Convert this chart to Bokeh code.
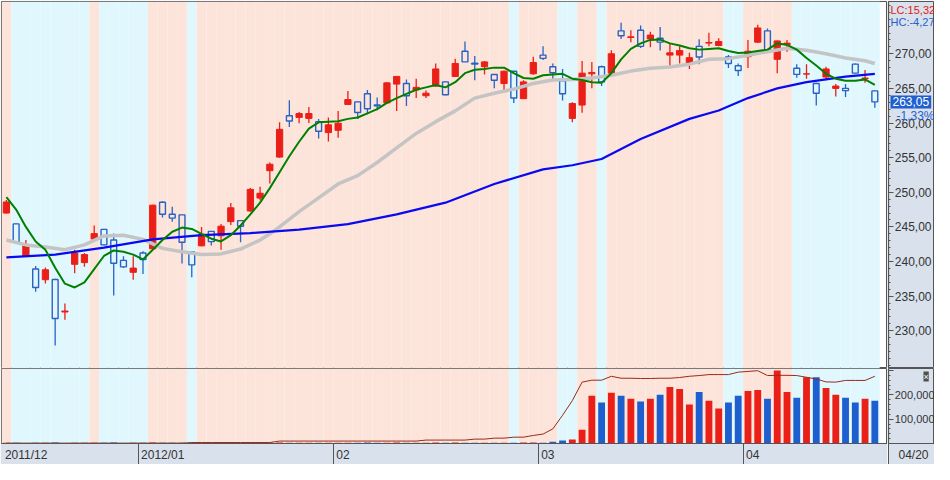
from bokeh.plotting import figure
from bokeh.layouts import column, row
from bokeh.models import Range1d, FixedTicker, Label, ColumnDataSource
from bokeh.embed import file_html
from bokeh.resources import INLINE

# ---------------- data (KOSPI200 futures, daily) ----------------
opens = [
    247.0, 245.43, 240.77, 238.91, 237.37, 237.41, 232.71, 239.6, 239.84, 243.24,
    244.64, 243.1, 240.16, 238.44, 241.24, 241.84, 248.56, 246.83, 246.74, 241.38,
    242.26, 244.36, 243.71, 245.76, 245.9, 247.3, 249.16, 253.12, 255.08, 261.05,
    260.81, 260.67, 260.2, 258.62, 258.95, 262.68, 263.05, 264.22, 262.62, 262.91,
    265.62, 265.71, 264.78, 263.94, 265.34, 265.94, 266.73, 270.37, 268.65, 268.13,
    267.0, 265.71, 267.48, 263.52, 267.11, 269.81, 268.13, 266.08, 260.67, 262.59,
    267.11, 268.13, 267.2, 273.31, 272.35, 273.4, 272.14, 272.24, 269.81, 269.81,
    268.51, 271.07, 271.54, 271.2, 269.53, 268.27, 269.58, 271.68, 273.31, 269.2,
    271.3, 267.9, 267.07, 265.71, 266.64, 265.0, 265.01, 268.5, 266.4, 264.64]
highs = [
    248.9, 245.5, 243.1, 239.37, 239.14, 237.5, 233.92, 241.7, 241.24, 245.2,
    244.7, 244.03, 240.77, 240.77, 241.5, 248.2, 248.7, 247.9, 246.8, 241.4,
    244.97, 244.4, 245.43, 248.46, 245.95, 250.6, 250.8, 254.29, 260.1, 263.3,
    261.6, 262.3, 260.58, 260.8, 261.75, 264.63, 263.1, 264.78, 263.7, 265.9,
    266.8, 266.27, 266.41, 264.68, 268.6, 266.0, 269.3, 271.77, 269.67, 268.97,
    267.0, 267.57, 267.5, 266.17, 269.58, 271.07, 268.6, 267.81, 263.0, 268.97,
    268.83, 268.3, 270.51, 274.47, 273.4, 274.1, 273.17, 273.87, 271.54, 271.07,
    270.14, 272.1, 273.03, 272.24, 269.81, 268.6, 272.0, 274.19, 273.64, 271.9,
    272.0, 268.5, 268.5, 265.8, 268.13, 265.62, 265.62, 268.6, 267.67, 264.7]
lows = [
    246.9, 242.7, 240.7, 235.64, 236.81, 227.86, 231.59, 238.3, 239.23, 242.96,
    242.3, 235.08, 239.05, 237.37, 238.2, 241.8, 246.37, 245.76, 239.7, 237.74,
    242.2, 242.31, 241.7, 245.29, 242.78, 247.2, 248.84, 251.26, 255.0, 259.42,
    259.97, 260.0, 257.78, 257.32, 257.88, 262.59, 260.58, 261.28, 261.84, 262.8,
    261.75, 262.45, 263.61, 263.61, 265.24, 264.0, 266.64, 268.8, 266.17, 267.0,
    265.01, 264.54, 262.91, 263.47, 266.97, 269.11, 266.08, 263.24, 260.12, 261.5,
    265.01, 265.34, 267.01, 272.14, 271.68, 270.84, 270.93, 270.46, 268.27, 268.6,
    267.81, 268.5, 271.07, 271.07, 267.95, 266.78, 267.95, 271.54, 270.28, 267.2,
    270.28, 266.55, 266.4, 262.54, 266.17, 263.84, 263.75, 267.1, 265.8, 262.2]
closes = [
    248.6, 242.78, 242.26, 236.25, 238.81, 231.77, 232.85, 241.24, 241.0, 244.03,
    242.4, 239.74, 239.23, 239.05, 240.3, 248.14, 246.83, 246.27, 242.78, 239.51,
    243.94, 242.87, 245.1, 247.76, 245.1, 250.42, 249.86, 254.05, 259.09, 260.3,
    261.37, 261.37, 258.81, 259.74, 259.97, 263.38, 261.51, 262.07, 262.5, 265.8,
    266.73, 263.94, 265.15, 264.31, 267.81, 264.08, 268.6, 268.83, 268.5, 268.83,
    266.17, 267.48, 263.61, 265.94, 268.74, 269.34, 267.25, 264.22, 262.82, 267.2,
    267.3, 265.94, 270.0, 272.61, 272.45, 271.07, 272.7, 271.68, 270.14, 270.46,
    269.44, 269.53, 271.63, 271.77, 268.6, 267.58, 270.37, 273.73, 270.6, 271.86,
    271.54, 267.02, 267.1, 264.31, 267.81, 265.34, 264.68, 267.2, 266.5, 263.05]
volumes = [
    2600, 3100, 2400, 3500, 2800, 3900, 2500, 3200, 2700, 3000,
    2900, 3600, 2400, 2800, 3300, 4100, 2600, 3000, 3400, 2900,
    3100, 2700, 3300, 3600, 2500, 3800, 2900, 3400, 4200, 3000,
    2800, 3100, 3500, 2600, 3200, 2900, 3300, 3700, 2800, 3100,
    3900, 3400, 3000, 2700, 3600, 3200, 3800, 3400, 2900, 3100,
    2700, 3300, 3500, 3800, 4000, 3000, 6700, 12000, 16000, 56000,
    196000, 168000, 208000, 196000, 184000, 172000, 184000, 200000, 232000, 224000,
    160000, 212000, 176000, 144000, 168000, 196000, 216000, 220000, 184000, 300000,
    212000, 188000, 272000, 272000, 228000, 200000, 188000, 168000, 184000, 176000]
open_interest = [
    1500, 1500, 1500, 1500, 1500, 1500, 1500, 1500, 1500, 1500,
    1500, 1500, 1500, 1500, 1500, 1500, 1500, 1500, 1500, 4000,
    4000, 4000, 4000, 4000, 4000, 4000, 4000, 4000, 10000, 10000,
    10000, 10000, 10000, 10000, 10000, 10000, 10000, 10000, 10000, 10000,
    10000, 10000, 10000, 14000, 14000, 14000, 14000, 14000, 18000, 18000,
    22000, 22000, 26000, 26000, 33000, 38700, 60000, 116000, 176000, 252000,
    260000, 260000, 276000, 268000, 268000, 267000, 267000, 268000, 268000, 271000,
    276000, 279000, 283000, 283000, 283000, 293000, 296000, 299000, 279000, 280000,
    280000, 279000, 272000, 265000, 253000, 252000, 259000, 259000, 259000, 276000]
# 1 = pink (rising phase), 0 = light cyan (falling phase)
trend_state = [
    1, 0, 0, 0, 0, 0, 0, 0, 0, 1,
    0, 0, 0, 0, 0, 1, 1, 1, 1, 0,
    1, 1, 1, 1, 1, 1, 1, 1, 1, 1,
    1, 1, 1, 1, 1, 1, 1, 1, 1, 1,
    1, 1, 1, 1, 1, 1, 1, 1, 1, 1,
    1, 1, 0, 1, 1, 1, 1, 0, 0, 1,
    1, 0, 1, 1, 1, 1, 1, 1, 1, 1,
    1, 1, 1, 1, 0, 0, 1, 1, 1, 1,
    1, 0, 0, 0, 0, 0, 0, 0, 0, 0]
ma_short = [
    249.3, 247.5, 245.0, 242.9, 241.7, 239.1, 236.8, 236.25, 237.0, 238.9,
    240.8, 241.6, 241.4, 241.0, 240.3, 241.7, 243.1, 244.3, 244.9, 244.7,
    244.0, 243.3, 242.9, 243.8, 245.2, 246.8, 248.5, 250.6, 252.9, 255.2,
    257.3, 259.2, 260.1, 260.2, 260.25, 260.6, 260.8, 261.4, 262.0, 262.9,
    263.6, 264.2, 264.8, 265.15, 265.5, 265.15, 265.9, 267.2, 267.7, 267.8,
    268.0, 268.0, 267.2, 266.5, 266.4, 266.9, 267.0, 267.1, 266.4, 266.2,
    265.9, 265.8, 267.2, 269.2, 270.7, 271.5, 272.0, 272.05, 271.5, 271.2,
    270.8, 270.6, 270.7, 270.8, 270.4, 270.1, 270.2, 270.4, 270.6, 271.5,
    271.3, 270.6, 269.4, 268.3, 267.1, 266.4, 266.1, 266.1, 266.3, 265.5]
ma_mid_idx = [0, 2, 4, 6, 8, 10, 12, 14, 16, 18, 20, 22, 24, 26, 27, 28, 30, 32, 34, 36,
              38, 40, 42, 44, 46, 48, 50, 52, 54, 56, 58, 60, 62, 64, 66, 68, 70, 72, 74, 76,
              78, 80, 82, 84, 86, 88, 89]
ma_mid = [243.1, 242.4, 242.1, 241.7, 242.4, 243.7, 243.8, 243.2, 241.9, 241.4,
          241.0, 241.1, 241.8, 243.1, 244.0, 245.0, 247.2, 249.2, 251.2, 252.4,
          254.3, 256.4, 258.5, 260.2, 261.75, 263.6, 264.3, 264.9, 265.7, 266.2,
          266.3, 266.5, 266.9, 267.5, 267.9, 268.1, 268.5, 269.2, 269.3, 269.8,
          270.3, 270.8, 270.5, 270.0, 269.4, 269.0, 268.6]
ma_long_idx = [0, 5, 10, 15, 20, 25, 30, 35, 40, 45, 50, 55, 58, 61, 65, 70, 73, 76, 79, 82, 86, 89]
ma_long = [240.6, 241.0, 242.0, 243.2, 243.8, 244.1, 244.6, 245.4, 246.8, 248.5, 251.2,
           253.3, 253.9, 254.8, 257.7, 260.6, 261.8, 263.6, 265.0, 265.9, 266.7, 267.1]

month_labels = ["2011/12", "2012/01", "02", "03", "04"]
month_start_idx = [0, 14, 34, 55, 76]
price_ticks = [230, 235, 240, 245, 250, 255, 260, 265, 270]
price_tick_labels = ["230,00", "235,00", "240,00", "245,00", "250,00",
                     "255,00", "260,00", "265,00", "270,00"]
vol_ticks = [0, 100000, 200000, 300000]
vol_tick_labels = ["", "100,000", "200,000", ""]
last_date_label = "04/20"
lc_text = "LC:15,32"
hc_text = "HC:-4,27"
last_close_text = "263,05"
change_text = "-1,33%"

# ---------------- style ----------------
RED = "#ea1f17"
BLUE = "#2a62c4"
PINK = "#fde4da"
CYAN = "#e0f8fd"
AXIS_BG = "#d9e1ec"
EDGE = "#555555"
TXT = "#333333"
FONT = "Liberation Sans"

W_MAIN, W_AX = 887, 47
H_PRICE, H_VOL, AX_H = 368, 96, 21

x_start, x_end = -0.5, 90.3
p_lo, p_hi = 224.55, 277.55
v_lo, v_hi = 0, 308000

N = len(closes)
idx = list(range(N))
xr = Range1d(x_start, x_end)
pyr = Range1d(p_lo, p_hi)
vyr = Range1d(v_lo, v_hi)


def make_main(height, yr, top, bottom, xloc):
    f = figure(width=W_MAIN, height=height, x_range=xr, y_range=yr,
               output_backend="svg", toolbar_location=None,
               y_axis_location=None, x_axis_location=xloc,
               min_border_left=1, min_border_right=0,
               min_border_top=top, min_border_bottom=bottom,
               background_fill_color="white", border_fill_color=AXIS_BG,
               outline_line_color=EDGE, outline_line_width=1)
    f.grid.visible = False
    return f


def make_side(height, yr, top, bottom, xloc):
    f = figure(width=W_AX, height=height, x_range=Range1d(0, 1), y_range=yr,
               output_backend="svg", toolbar_location=None,
               y_axis_location="left", x_axis_location=xloc,
               min_border_left=1, min_border_right=0,
               min_border_top=top, min_border_bottom=bottom,
               background_fill_color=AXIS_BG, border_fill_color=AXIS_BG,
               outline_line_color=EDGE, outline_line_width=1)
    f.grid.visible = False
    return f


def style_axis(ax, size):
    ax.axis_line_color = EDGE
    ax.axis_line_width = 1.2
    ax.major_tick_line_color = EDGE
    ax.minor_tick_line_color = EDGE
    ax.major_label_text_font = FONT
    ax.major_label_text_font_size = size
    ax.major_label_text_color = TXT


band_src = ColumnDataSource(dict(
    left=[i - 0.5 for i in idx], right=[i + 0.5 for i in idx],
    color=[PINK if s else CYAN for s in trend_state]))

# ---------------- price panel ----------------
p = make_main(H_PRICE, pyr, 1, 0, None)
p.quad(left="left", right="right", bottom=p_lo, top=p_hi, fill_color="color",
       line_color=None, source=band_src)

up = [c >= o for o, c in zip(opens, closes)]
btop = [max(o, c) for o, c in zip(opens, closes)]
bbot = [min(o, c) for o, c in zip(opens, closes)]


def pick(vals, want):
    return [v for v, u in zip(vals, up) if u == want]


red = ColumnDataSource(dict(x=pick(idx, True), top=pick(btop, True), bottom=pick(bbot, True),
                            high=pick(highs, True), low=pick(lows, True)))
blue = ColumnDataSource(dict(x=pick(idx, False), top=pick(btop, False), bottom=pick(bbot, False),
                             high=pick(highs, False), low=pick(lows, False)))

p.segment(x0="x", y0="high", x1="x", y1="low", line_color=RED, line_width=1.3, source=red)
p.vbar(x="x", top="top", bottom="bottom", width=0.64, fill_color=RED, line_color=RED,
       line_width=1, source=red)
p.segment(x0="x", y0="high", x1="x", y1="top", line_color=BLUE, line_width=1.3, source=blue)
p.segment(x0="x", y0="bottom", x1="x", y1="low", line_color=BLUE, line_width=1.3, source=blue)
p.vbar(x="x", top="top", bottom="bottom", width=0.6, fill_color=None, line_color=BLUE,
       line_width=1.4, source=blue)

p.line(ma_mid_idx, ma_mid, line_color="#c4c4c4", line_width=3.5)
p.line(ma_long_idx, ma_long, line_color="#0a0af0", line_width=2.2)
p.line(idx, ma_short, line_color="#008000", line_width=2)

# price axis column (ticks point right, labels inside the column)
pa = make_side(H_PRICE, pyr, 1, 0, None)
ya = pa.yaxis[0]
ya.ticker = FixedTicker(ticks=price_ticks, minor_ticks=list(range(225, 278)))
ya.major_label_overrides = {t: s for t, s in zip(price_ticks, price_tick_labels)}
style_axis(ya, "12px")
ya.major_tick_out, ya.major_tick_in = 0, 5
ya.minor_tick_out, ya.minor_tick_in = 0, 2
ya.major_label_standoff = -43

pa.add_layout(Label(x=0, y=p_hi, x_offset=2, y_offset=-8, text=lc_text,
                    text_color="#e01818", text_font=FONT, text_font_size="11px",
                    text_baseline="middle"))
pa.add_layout(Label(x=0, y=p_hi, x_offset=2, y_offset=-20, text=hc_text,
                    text_color="#1f5fcf", text_font=FONT, text_font_size="11px",
                    text_baseline="middle"))
pa.add_layout(Label(x=0, y=closes[-1], x_offset=2, text=last_close_text,
                    text_color="white", background_fill_color="#1f5fcf",
                    text_font=FONT, text_font_size="12px", text_baseline="middle",
                    padding=2))
pa.add_layout(Label(x=0, y=closes[-1], x_offset=8, y_offset=-14, text=change_text,
                    text_color="#1f5fcf", text_font=FONT, text_font_size="12px",
                    text_baseline="middle"))

# ---------------- volume panel ----------------
v = make_main(H_VOL, vyr, 0, AX_H, "below")
v.quad(left="left", right="right", bottom=v_lo, top=v_hi, fill_color="color",
       line_color=None, source=band_src)
v.vbar(x=idx, top=volumes, bottom=0, width=0.7,
       fill_color=[RED if u else "#1e5fd0" for u in up], line_color=None)
v.line(idx, open_interest, line_color="#9a2a18", line_width=1)

# x axis: long minor ticks at month boundaries, labels just right of them
ppu = (W_MAIN - 1) / (x_end - x_start)
bounds = [s - 0.5 for s in month_start_idx]
widths = [sum(3.33 if ch == "/" else 6.67 for ch in lab) for lab in month_labels]
centers = [b + (3 + w / 2) / ppu for b, w in zip(bounds, widths)]
vx = v.xaxis[0]
vx.ticker = FixedTicker(ticks=centers, minor_ticks=bounds[1:])
vx.major_label_overrides = {c: s for c, s in zip(centers, month_labels)}
style_axis(vx, "12px")
vx.major_tick_out, vx.major_tick_in = 0, 0
vx.minor_tick_out, vx.minor_tick_in = AX_H, 0
vx.major_label_standoff = 4 - AX_H

# volume axis column
va = make_side(H_VOL, vyr, 0, AX_H, "below")
vy = va.yaxis[0]
vy.ticker = FixedTicker(ticks=vol_ticks, minor_ticks=list(range(0, 308001, 20000)))
vy.major_label_overrides = {t: s for t, s in zip(vol_ticks, vol_tick_labels)}
style_axis(vy, "11px")
vy.major_tick_out, vy.major_tick_in = 0, 5
vy.minor_tick_out, vy.minor_tick_in = 0, 2
vy.major_label_standoff = -46

date_w = sum(3.33 if ch == "/" else 6.67 for ch in last_date_label)
date_c = (10 + date_w / 2) / (W_AX - 1)
dx = va.xaxis[0]
dx.ticker = FixedTicker(ticks=[date_c], minor_ticks=[0.005])
dx.major_label_overrides = {date_c: last_date_label}
style_axis(dx, "12px")
dx.major_tick_out, dx.major_tick_in = 0, 0
dx.minor_tick_out, dx.minor_tick_in = AX_H, 0
dx.major_label_standoff = 4 - AX_H

va.add_layout(Label(x=1, y=v_hi, x_offset=-11, y_offset=-8, text="×",
                    text_color="white", background_fill_color="#505050",
                    text_font=FONT, text_font_size="9px", text_baseline="middle"))

layout = column(row(p, pa), row(v, va))
open("out.html", "w").write(file_html(layout, INLINE))
